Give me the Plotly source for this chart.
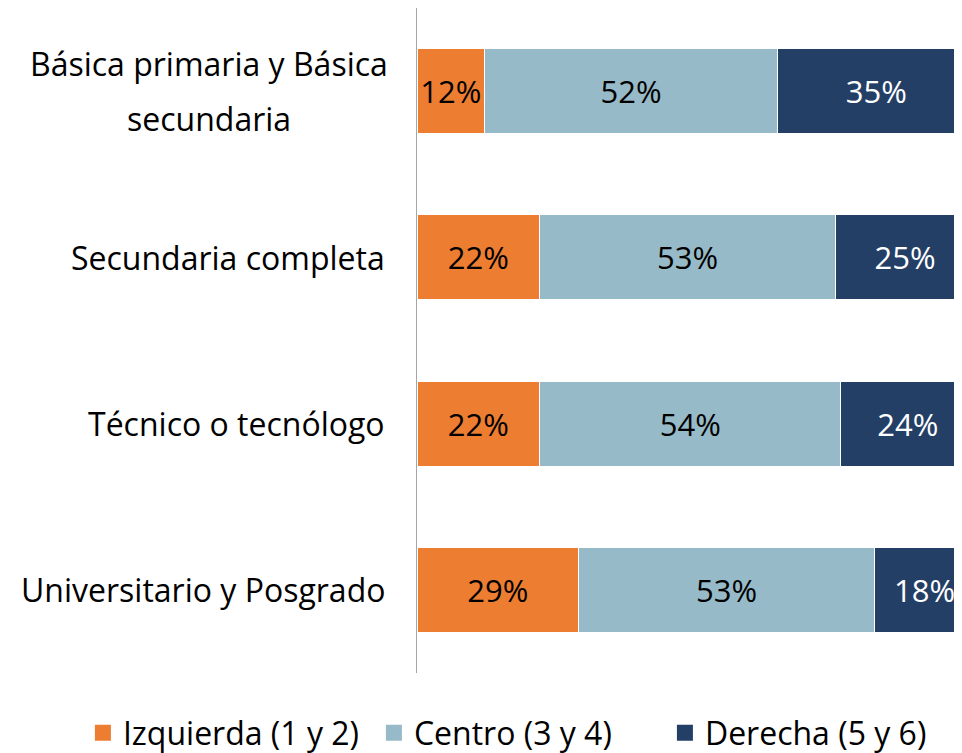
import plotly.graph_objects as go

categories = ["Básica primaria y Básica<br>secundaria", "Secundaria completa",
              "Técnico o tecnólogo", "Universitario y Posgrado"]
izquierda = [12, 22, 22, 29]
centro = [52, 53, 54, 53]
derecha = [35, 25, 24, 18]

series = [
    ("Izquierda (1 y 2)", izquierda, "#ED7D31", "black"),
    ("Centro (3 y 4)", centro, "#97BAC8", "black"),
    ("Derecha (5 y 6)", derecha, "#243F66", "white"),
]

FONT = "Open Sans"
fig = go.Figure()
for name, vals, color, tcolor in series:
    fig.add_trace(go.Bar(
        y=categories, x=vals, name=name, orientation="h", showlegend=False,
        marker=dict(color=color, line=dict(color="white", width=1)),
        text=vals, texttemplate="%{text}%", textposition="inside",
        insidetextanchor="middle", textangle=0,
        textfont=dict(family=FONT, size=31, color=tcolor),
        hoverinfo="skip",
    ))
    # legend key (square swatch)
    fig.add_trace(go.Scatter(
        x=[None], y=[None], mode="markers", name=name,
        marker=dict(symbol="square", size=20, color=color),
        showlegend=True, hoverinfo="skip",
    ))

LINE_GAP = 55
for c in categories:
    lines = c.split("<br>")
    n = len(lines)
    if n == 1:
        fig.add_annotation(
            x=0, xref="paper", y=c, yref="y", xanchor="right", xshift=-30,
            text=c, showarrow=False,
            font=dict(family=FONT, size=32, color="black"),
        )
    else:
        for i, line in enumerate(lines):
            fig.add_annotation(
                x=0, xref="paper", y=c, yref="y", xanchor="center",
                xshift=-208, yshift=((n - 1) / 2 - i) * LINE_GAP,
                text=line, showarrow=False,
                font=dict(family=FONT, size=32, color="black"),
            )

fig.update_layout(
    width=954, height=745,
    barmode="stack", barnorm="percent", bargap=0.49,
    plot_bgcolor="white", paper_bgcolor="white",
    margin=dict(l=409, r=0, t=0, b=80, autoexpand=False),
    legend=dict(orientation="h", x=-0.613, xanchor="left", y=-0.09, yanchor="middle",
                font=dict(family=FONT, size=32, color="black"),
                itemsizing="trace", traceorder="normal",
                entrywidth=246, entrywidthmode="pixels"),
    xaxis=dict(range=[0, 97.7], visible=False, showgrid=False, zeroline=False),
    yaxis=dict(autorange="reversed", showticklabels=False, showline=True,
               linecolor="#A6A6A6", linewidth=1, ticks="", showgrid=False),
)

fig.write_html("out.html")
